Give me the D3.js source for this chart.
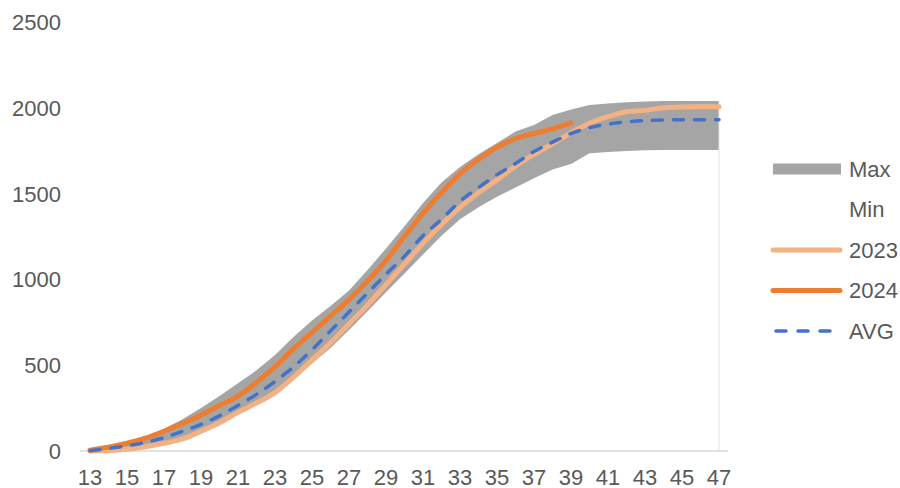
<!DOCTYPE html>
<html><head><meta charset="utf-8">
<script src="https://cdn.jsdelivr.net/npm/d3@7"></script>
<style>html,body{margin:0;padding:0;background:#fff;}svg{display:block;}</style>
</head><body><svg id="c" width="900" height="488"></svg>
<script>
const weeks = [13,14,15,16,17,18,19,20,21,22,23,24,25,26,27,28,29,30,31,32,33,34,35,36,37,38,39,40,41,42,43,44,45,46,47];
const maxVals = [8,25,50,82,130,185,250,320,395,470,560,665,760,845,935,1055,1180,1310,1445,1565,1655,1730,1795,1862,1900,1958,1990,2016,2025,2032,2036,2040,2040,2040,2040];
const minVals = [0,2,8,20,40,65,110,160,215,270,330,420,510,600,705,815,925,1035,1145,1255,1350,1420,1482,1535,1590,1640,1672,1735,1742,1748,1752,1754,1754,1754,1754];
const y2023 = [0,3,10,25,45,70,115,165,225,280,340,430,530,630,740,850,970,1090,1210,1320,1420,1505,1580,1660,1728,1790,1855,1910,1948,1977,1985,2000,2005,2006,2006];
const y2024 = [5,22,45,75,115,160,210,265,320,400,490,595,690,786,882,990,1110,1250,1385,1505,1615,1700,1770,1821,1850,1877,1912];
const avgVals = [2,15,30,50,78,115,155,205,265,330,405,490,590,700,810,920,1030,1135,1255,1350,1455,1535,1610,1675,1745,1800,1850,1885,1905,1918,1925,1929,1930,1930,1930];
const yTicks = [0,500,1000,1500,2000,2500];
const xTickLabels = weeks.filter((w,i)=>i%2===0);
const legendItems = ["Max","Min","2023","2024","AVG"];

const svg = d3.select("#c");
const font = "'Liberation Sans',Arial,sans-serif";
const txt = "#595959";
const x = d3.scalePoint().domain(weeks).range([90,719]);
const y = d3.scaleLinear().domain([0,2500]).range([451,22]);

// band
const band = weeks.map((w,i)=>({w, lo:minVals[i], hi:maxVals[i]}));
svg.append("path").datum(band)
  .attr("d", d3.area().x(d=>x(d.w)).y0(d=>y(d.lo)).y1(d=>y(d.hi)))
  .attr("fill","#A5A5A5");

// right edge light line
svg.append("line").attr("x1",x(47)).attr("x2",x(47))
  .attr("y1",y(maxVals[maxVals.length-1])).attr("y2",y(0))
  .attr("stroke","#E3E3E3").attr("stroke-width",1);

// axis line
svg.append("line").attr("x1",x(13)-10).attr("x2",x(47)+9).attr("y1",y(0)).attr("y2",y(0))
  .attr("stroke","#D9D9D9").attr("stroke-width",1.5);

const line = d3.line().x(d=>x(d[0])).y(d=>y(d[1])).curve(d3.curveMonotoneX);
const mk = arr => arr.map((v,i)=>[weeks[i],v]);
svg.append("path").datum(mk(y2023)).attr("d",line).attr("fill","none")
  .attr("stroke","#F4B183").attr("stroke-width",5).attr("stroke-linecap","round").attr("stroke-linejoin","round");
svg.append("path").datum(mk(y2024)).attr("d",line).attr("fill","none")
  .attr("stroke","#ED7D31").attr("stroke-width",5).attr("stroke-linecap","round").attr("stroke-linejoin","round");
svg.append("path").datum(mk(avgVals)).attr("d",line).attr("fill","none")
  .attr("stroke","#4472C4").attr("stroke-width",3.5).attr("stroke-dasharray","10,11").attr("stroke-linecap","round");

// y labels
svg.append("g").selectAll("text").data(yTicks).join("text")
  .attr("x",61).attr("y",d=>y(d)).attr("dy","0.36em").attr("text-anchor","end")
  .attr("font-family",font).attr("font-size",22).attr("fill",txt).text(d=>d);
// x labels
svg.append("g").selectAll("text").data(xTickLabels).join("text")
  .attr("x",d=>x(d)).attr("y",485).attr("text-anchor","middle")
  .attr("font-family",font).attr("font-size",22).attr("fill",txt).text(d=>d);

// legend
const ly = d3.scalePoint().domain(legendItems).range([169,331]);
const lg = svg.append("g");
lg.append("rect").attr("x",773).attr("y",ly("Max")-5.5).attr("width",68).attr("height",11).attr("fill","#A5A5A5");
lg.append("line").attr("x1",773).attr("x2",840).attr("y1",ly("2023")).attr("y2",ly("2023"))
  .attr("stroke","#F4B183").attr("stroke-width",5).attr("stroke-linecap","round");
lg.append("line").attr("x1",773).attr("x2",840).attr("y1",ly("2024")).attr("y2",ly("2024"))
  .attr("stroke","#ED7D31").attr("stroke-width",5).attr("stroke-linecap","round");
lg.append("line").attr("x1",776).attr("x2",830).attr("y1",ly("AVG")).attr("y2",ly("AVG"))
  .attr("stroke","#4472C4").attr("stroke-width",3.5).attr("stroke-dasharray","10,12").attr("stroke-linecap","round");
lg.selectAll("text").data(legendItems).join("text")
  .attr("x",849).attr("y",d=>ly(d)).attr("dy","0.36em")
  .attr("font-family",font).attr("font-size",22).attr("fill",txt).text(d=>d);
</script></body></html>
